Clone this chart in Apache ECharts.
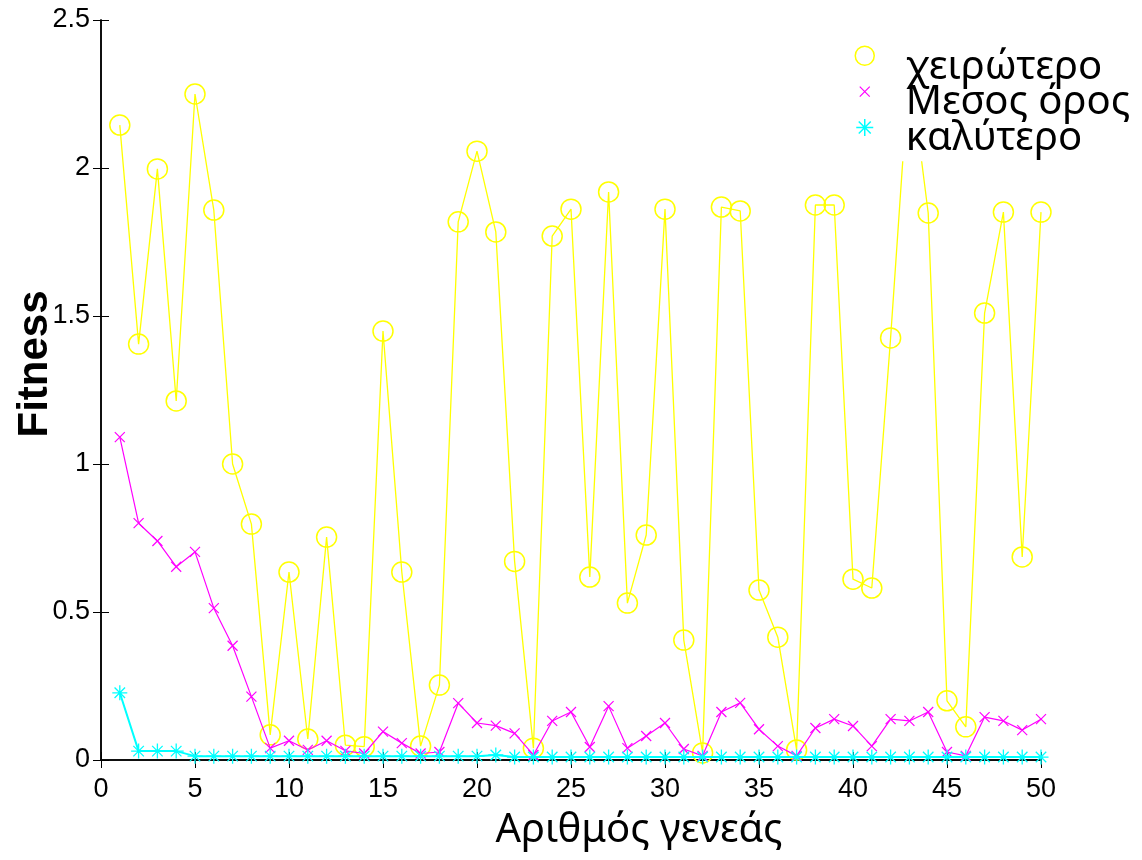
<!DOCTYPE html>
<html>
<head>
<meta charset="utf-8">
<script src="https://cdn.jsdelivr.net/npm/echarts@6/dist/echarts.min.js"></script>
<style>
html,body{margin:0;padding:0;background:#fff;}
#chart{width:1142px;height:860px;}
</style>
</head>
<body>
<div id="chart"></div>
<script>
// Generation numbers 1..50
var generations = [1,2,3,4,5,6,7,8,9,10,11,12,13,14,15,16,17,18,19,20,21,22,23,24,25,26,27,28,29,30,31,32,33,34,35,36,37,38,39,40,41,42,43,44,45,46,47,48,49,50];
// worst fitness (χειρώτερο)
var worst = [2.145,1.405,1.997,1.213,2.25,1.858,1.0,0.797,0.085,0.635,
             0.071,0.753,0.05,0.045,1.449,0.635,0.047,0.253,1.818,2.057,
             1.784,0.671,0.04,1.77,1.861,0.618,1.919,0.53,0.76,1.861,
             0.405,0.024,1.868,1.855,0.574,0.415,0.034,1.875,1.875,0.611,
             0.581,1.426,2.35,1.848,0.2,0.112,1.51,1.851,0.686,1.851];
// mean fitness (Μεσος ορος)
var mean = [1.091,0.80,0.74,0.653,0.703,0.513,0.386,0.214,0.04,0.065,
            0.034,0.065,0.031,0.022,0.096,0.057,0.022,0.027,0.192,0.125,
            0.116,0.09,0.017,0.132,0.162,0.044,0.182,0.04,0.081,0.125,
            0.037,0.014,0.162,0.193,0.104,0.047,0.014,0.108,0.138,0.115,
            0.047,0.138,0.132,0.162,0.027,0.014,0.145,0.132,0.101,0.138];
// best fitness (καλύτερο)
var best = [0.227,0.03,0.03,0.03,0.013,0.013,0.013,0.013,0.013,0.013,
            0.013,0.013,0.013,0.013,0.013,0.013,0.013,0.013,0.013,0.013,
            0.017,0.01,0.01,0.01,0.01,0.01,0.01,0.01,0.01,0.01,
            0.01,0.01,0.01,0.01,0.01,0.01,0.01,0.01,0.01,0.01,
            0.01,0.01,0.01,0.01,0.01,0.01,0.01,0.01,0.01,0.01];
var xTicks = [0,5,10,15,20,25,30,35,40,45,50];
var yTicks = [0,0.5,1,1.5,2,2.5];
var seriesNames = ['χειρώτερο','Μεσος όρος','καλύτερο'];
var xName = 'Αριθμός γενεάς';
var yName = 'Fitness';

function pairs(vals){ return generations.map(function(g,i){ return [g, vals[i]]; }); }

var crossPath = 'path://M0,0L10,10M10,0L0,10';
var starPath = 'path://M5,0L5,10M0,5L10,5M1.5,1.5L8.5,8.5M8.5,1.5L1.5,8.5';
// legend icons: invisible bounding points keep the glyph in the upper part of a 20x43 box
var circleIcon = 'path://M0,0M20,43M19.5,10A9.5,9.5,0,1,1,0.5,10A9.5,9.5,0,1,1,19.5,10Z';
var crossIcon = 'path://M0,0M20,43M5,5L15,15M15,5L5,15';
var starIcon = 'path://M0,0M20,43M10,1.5L10,18.5M1.5,10L18.5,10M4,4L16,16M16,4L4,16';

var YEL = '#ffff00', MAG = '#ff00ff', CYA = '#00ffff';
var tickFont = 'Liberation Sans, Arial, sans-serif';
var textFont = 'Noto Sans, sans-serif';

var chart = echarts.init(document.getElementById('chart'), null, {renderer:'canvas'});
var axisCommon = {
  type:'value',
  axisLine:{show:true, lineStyle:{color:'#000', width:1.5}},
  axisTick:{show:true, inside:true, length:8, lineStyle:{color:'#000', width:1}},
  splitLine:{show:false}
};
chart.setOption({
  animation:false,
  backgroundColor:'#fff',
  grid:{left:101, right:101, top:20, bottom:100, containLabel:false, outerBoundsMode:'none'},
  legend:{
    orient:'vertical',
    left:854, top:45,
    padding:0,
    itemGap:-8.5,
    itemWidth:72, itemHeight:43,
    backgroundColor:'#fff',
    selectedMode:false,
    textStyle:{fontFamily:textFont, fontSize:40, color:'#000', lineHeight:40, width:150, overflow:'none'},
    data:[
      {name:seriesNames[0], icon:circleIcon, itemStyle:{color:'rgba(0,0,0,0)', borderColor:YEL, borderWidth:1.5}},
      {name:seriesNames[1], icon:crossIcon, itemStyle:{color:'rgba(0,0,0,0)', borderColor:MAG, borderWidth:1.2}},
      {name:seriesNames[2], icon:starIcon, itemStyle:{color:'rgba(0,0,0,0)', borderColor:CYA, borderWidth:1.5}}
    ]
  },
  xAxis:[
    Object.assign({}, axisCommon, {
      position:'bottom', min:0, max:50, interval:5,
      axisLabel:{show:true, margin:16, fontSize:27, color:'#000', fontFamily:tickFont},
      name:xName, nameLocation:'middle', nameGap:51, nameMoveOverlap:false,
      nameTextStyle:{fontSize:40, color:'#000', fontFamily:textFont, padding:[0,0,0,136]}
    }),
    Object.assign({}, axisCommon, {
      position:'top', min:0, max:50, interval:5,
      axisLabel:{show:false}
    })
  ],
  yAxis:[
    Object.assign({}, axisCommon, {
      position:'left', min:0, max:2.5, interval:0.5,
      axisLabel:{show:true, margin:11, fontSize:27, color:'#000', fontFamily:tickFont},
      name:yName, nameLocation:'middle', nameGap:45, nameRotate:90, nameMoveOverlap:false,
      nameTextStyle:{fontSize:42, fontWeight:'bold', color:'#000', fontFamily:tickFont, padding:[0,0,0,52]}
    }),
    Object.assign({}, axisCommon, {
      position:'right', min:0, max:2.5, interval:0.5, z:10,
      axisLabel:{show:false}
    })
  ],
  series:[
    {
      name:seriesNames[0], type:'line', xAxisIndex:0, yAxisIndex:0,
      data:pairs(worst),
      symbol:'circle', symbolSize:20, showAllSymbol:true,
      lineStyle:{color:YEL, width:1.3},
      itemStyle:{color:'rgba(0,0,0,0)', borderColor:YEL, borderWidth:1.5},
      emphasis:{disabled:true}, z:2
    },
    {
      name:seriesNames[1], type:'line', xAxisIndex:0, yAxisIndex:0,
      data:pairs(mean),
      symbol:crossPath, symbolSize:10, showAllSymbol:true,
      lineStyle:{color:MAG, width:1.2},
      itemStyle:{color:'rgba(0,0,0,0)', borderColor:MAG, borderWidth:1.2},
      emphasis:{disabled:true}, z:3
    },
    {
      name:seriesNames[2], type:'line', xAxisIndex:0, yAxisIndex:0,
      data:pairs(best),
      symbol:starPath, symbolSize:15, showAllSymbol:true,
      lineStyle:{color:CYA, width:2},
      itemStyle:{color:'rgba(0,0,0,0)', borderColor:CYA, borderWidth:1.3},
      emphasis:{disabled:true}, z:4
    }
  ]
});
</script>
</body>
</html>
